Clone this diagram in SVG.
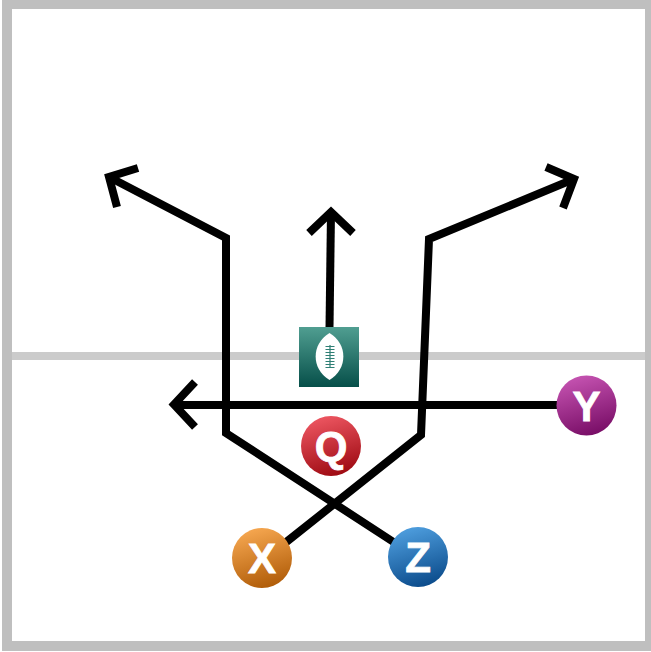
<svg xmlns="http://www.w3.org/2000/svg" width="651" height="652" viewBox="0 0 651 652">
<style>
.line{fill:none;stroke:#000;stroke-width:8;stroke-linejoin:miter;stroke-linecap:butt}
.lab{font-family:"Liberation Sans",Arial,sans-serif;font-weight:700;font-size:42px;fill:#fff;stroke:#fff;stroke-width:0.800;text-anchor:middle}
</style>
<defs>
<linearGradient id="gx" x1="0.3" y1="0" x2="0.6" y2="1"><stop offset="0" stop-color="#f7a851"/><stop offset="1" stop-color="#b05c08"/></linearGradient>
<linearGradient id="gz" x1="0.3" y1="0" x2="0.6" y2="1"><stop offset="0" stop-color="#4f9fdf"/><stop offset="1" stop-color="#0b4b8b"/></linearGradient>
<linearGradient id="gq" x1="0.3" y1="0" x2="0.6" y2="1"><stop offset="0" stop-color="#ee5762"/><stop offset="1" stop-color="#9e0a12"/></linearGradient>
<linearGradient id="gy" x1="0.3" y1="0" x2="0.6" y2="1"><stop offset="0" stop-color="#c654b2"/><stop offset="1" stop-color="#780d66"/></linearGradient>
<linearGradient id="gb" x1="0" y1="0" x2="0" y2="1"><stop offset="0" stop-color="#509e91"/><stop offset="1" stop-color="#064f49"/></linearGradient>
</defs>
<rect width="651" height="652" fill="#fff"/>
<path d="M2 0H651V651H2ZM12 9V641H645V9Z" fill="#bfbfbf" fill-rule="evenodd"/>
<rect x="12" y="352" width="633" height="8" fill="#cbcbcb"/>
<g id="connectors">
<path class="line" d="M285 543L421 435L429 239L574 179"/>
<path class="line" d="M395 543L226 433V238L109 177"/>
<path class="line" d="M558 405H174"/>
<path class="line" d="M329.500 328L331 212"/>
<path class="line" d="M138 168L109 177L117 207"/>
<path class="line" d="M546 167L574 179L563 208"/>
<path class="line" d="M309 233L331 212L353 233"/>
<path class="line" d="M195 382L174 404.500L195 427"/>
</g>
<g id="ball">
<rect x="299" y="327" width="60" height="60" fill="url(#gb)"/>
<path d="M329.500 333C348 344 348 369 329.500 380C311 369 311 344 329.500 333Z" fill="#fff"/>
<path d="M330 345V368M325.500 346.500H334.500M325.500 349.500H334.500M325.500 352.500H334.500M325.500 355.500H334.500M325.500 358.500H334.500M325.500 361.500H334.500M325.500 364.500H334.500M325.500 367.500H334.500" stroke="#2f7f75" stroke-width="1.200" fill="none"/>
</g>
<g id="Q"><circle cx="331" cy="446" r="30" fill="url(#gq)"/><text class="lab" x="331" y="461">Q</text></g>
<g id="X"><circle cx="262" cy="558" r="30" fill="url(#gx)"/><text class="lab" x="262" y="573">X</text></g>
<g id="Z"><circle cx="418" cy="557" r="30" fill="url(#gz)"/><text class="lab" x="418" y="572">Z</text></g>
<g id="Y"><circle cx="586.500" cy="405.500" r="30" fill="url(#gy)"/><text class="lab" x="586.500" y="420.500">Y</text></g>
</svg>
